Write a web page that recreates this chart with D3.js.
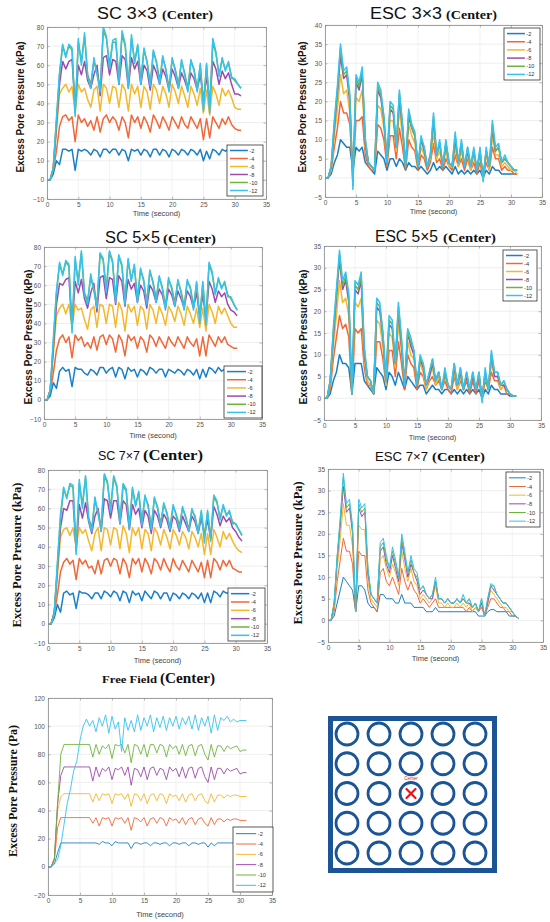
<!DOCTYPE html>
<html><head><meta charset="utf-8">
<script src="https://cdn.jsdelivr.net/npm/d3@7"></script>
<style>body{margin:0;background:#fff}svg{display:block}</style>
</head><body><svg id="c" width="550" height="922"></svg>
<script>
// ---------------- DATA ----------------
const timeSec = [0,0.5,1,1.5,2,2.5,3,3.5,4,4.5,5,5.5,6,6.5,7,7.5,8,8.5,9,9.5,10,10.5,11,11.5,12,12.5,13,13.5,14,14.5,15,15.5,16,16.5,17,17.5,18,18.5,19,19.5,20,20.5,21,21.5,22,22.5,23,23.5,24,24.5,25,25.5,26,26.5,27,27.5,28,28.5,29,29.5,30,30.5,31];
const depthLabels = ["-2","-4","-6","-8","-10","-12"];
const depthColors = ["#1a7fc6","#f0683a","#f5b72c","#9c4aac","#6fb23c","#35c2ee"];
const xTickValues = [0,5,10,15,20,25,30,35];
const yTicksSC = [-10,0,10,20,30,40,50,60,70,80];
const yTicksESC40 = [-5,0,5,10,15,20,25,30,35,40];
const yTicksESC35 = [-5,0,5,10,15,20,25,30,35];
const yTicksFF = [-20,0,20,40,60,80,100,120];

// SC 3x3
const sc3_d2 = [0,0,3,10,8,16,16,15,16,5,16,15,16,15,13,16,15,12,16,16,14,16,16,13,16,15,10,16,15,16,13,16,15,12,16,16,13,16,15,12,16,15,13,16,15,13,16,15,13,16,10,15,11,16,15,13,16,15,16,14,16,15,15];
const sc3_d4 = [0,0,5,15,28,33,34,31,33,20,34,30,32,28,31,26,33,25,32,34,30,33,31,26,33,30,22,34,30,33,27,33,30,25,34,31,27,33,30,26,33,30,27,33,29,27,33,30,27,32,21,32,22,33,30,27,32,29,33,29,27,26,26];
const sc3_d6 = [0,0,6,25,45,48,50,46,49,35,50,46,48,42,38,47,49,36,50,48,40,49,48,38,50,47,36,50,45,49,38,49,46,37,50,47,40,49,45,38,50,46,40,49,44,38,49,45,39,48,35,47,34,49,45,39,48,44,47,43,38,37,37];
const sc3_d8 = [0,0,6,28,50,62,58,62,63,38,60,55,62,52,48,55,60,44,64,65,55,63,62,50,65,63,48,64,58,62,50,60,57,47,60,56,50,58,54,47,58,54,48,56,52,47,56,53,47,55,42,54,40,62,58,50,57,53,56,50,45,45,44];
const sc3_d10 = [0,0,6,30,55,70,65,70,68,35,72,62,75,55,50,62,56,48,78,74,60,72,72,52,76,70,50,74,62,70,52,68,62,50,67,62,52,64,58,48,63,58,50,62,56,48,62,58,48,60,40,60,38,72,66,55,63,58,61,54,52,50,48];
const sc3_d12 = [0,0,6,32,56,71,64,71,69,33,74,60,77,54,48,64,55,46,80,75,58,73,74,50,78,71,48,76,61,71,50,69,61,49,68,61,50,65,57,46,64,57,48,63,55,46,63,57,46,61,36,61,35,74,67,54,64,57,62,53,53,50,48];

// ESC 3x3
const esc3_d2 = [0,0,1,4,6,10,9,8,8,2,8,7,8,4,3,2,1,7,6,5,2,5,5,3,5,4,2,4,3,3,2,3,2,1,2,4,2,3,2,3,2,1,3,1,2,1,2,1,2,1,2,0,2,1,3,2,2,1,1,1,1,1,1];
const esc3_d4 = [0,0,2,8,13,20,17,17,14,1,15,15,16,6,3,2,2,14,13,10,3,11,11,5,13,8,2,10,8,7,2,6,5,2,4,9,4,5,2,5,3,2,6,3,5,2,5,2,4,1,4,0,4,2,8,5,5,2,3,2,2,1,1];
const esc3_d6 = [0,0,2,11,18,27,22,23,17,0,21,20,23,8,4,3,2,19,18,13,4,15,15,7,18,11,3,14,11,9,3,8,6,3,5,12,5,7,3,7,3,3,8,3,7,3,6,2,6,2,6,0,6,2,11,6,6,3,4,3,2,2,1];
const esc3_d8 = [0,0,3,13,22,32,26,27,20,-1,25,23,27,9,4,3,2,23,21,15,4,18,17,8,21,13,3,16,13,11,3,10,7,3,6,15,6,9,3,9,4,3,10,4,9,3,7,3,7,2,7,0,7,3,13,7,8,4,5,4,3,2,2];
const esc3_d10 = [0,0,3,14,23,34,27,28,21,-2,26,24,28,10,4,3,2,24,22,16,4,19,18,8,22,14,3,17,13,11,3,10,8,3,6,16,6,9,3,9,4,3,11,4,9,3,8,3,7,2,7,0,7,3,14,7,8,4,5,4,3,2,2];
const esc3_d12 = [0,0,3,15,24,35,28,29,22,-3,27,25,29,10,4,3,2,25,23,16,4,20,19,8,23,14,3,18,14,12,3,11,8,3,6,17,6,10,3,10,4,3,12,4,10,3,8,3,8,2,8,-1,8,3,15,8,9,4,6,4,3,2,2];

// SC 5x5
const sc5_d2 = [0,0,2,9,6,15,17,15,16,7,17,16,16,14,13,16,15,13,17,17,14,16,17,12,17,16,11,17,15,16,12,16,15,13,17,16,14,16,16,12,16,15,14,16,15,13,16,15,13,16,11,16,12,17,16,14,17,15,16,15,16,15,15];
const sc5_d4 = [0,0,4,14,26,32,34,30,33,22,34,31,33,28,30,27,33,26,33,34,29,34,32,25,34,31,23,34,31,33,27,33,31,25,34,32,28,33,30,27,33,30,28,33,30,27,33,30,28,32,23,33,23,34,31,28,33,30,33,29,28,27,27];
const sc5_d6 = [0,0,5,24,44,48,50,45,50,38,50,47,48,42,37,47,49,38,50,49,40,50,49,38,51,47,36,50,46,49,39,49,47,37,50,47,40,49,45,39,49,46,41,49,45,39,49,45,40,48,38,48,36,50,46,40,49,45,48,44,40,38,38];
const sc5_d8 = [0,0,5,27,50,61,60,63,64,38,62,56,63,53,48,56,61,46,64,65,53,64,63,50,65,62,49,63,58,61,51,60,57,48,60,57,51,58,55,48,58,55,49,57,53,48,57,54,48,56,44,55,42,62,58,51,57,54,56,50,47,46,44];
const sc5_d10 = [0,0,5,30,56,71,66,72,70,37,73,62,77,56,52,64,58,50,76,73,58,77,72,53,75,70,52,73,63,70,53,68,63,51,67,62,53,64,59,49,63,59,51,62,57,49,62,59,49,61,44,61,42,71,66,56,63,59,61,55,53,50,47];
const sc5_d12 = [0,0,5,32,57,72,65,73,71,35,75,60,78,55,50,66,57,48,77,74,56,78,73,51,76,71,50,74,62,71,51,69,62,50,68,61,51,65,58,47,64,58,49,63,56,47,63,58,47,62,40,62,39,72,67,55,64,58,62,54,54,50,47];

// ESC 5x5
const esc5_d2 = [0,0,1,4,6,10,8,8,7,1,8,8,8,4,3,2,1,7,6,5,2,6,5,3,6,4,2,5,4,3,2,3,3,1,2,3,2,2,1,2,2,1,2,1,2,1,2,1,2,1,2,0,2,1,3,2,2,1,1,1,0.5,0.5,0.5];
const esc5_d4 = [0,0,2,9,14,19,16,17,14,1,16,15,16,7,3,3,1,13,13,9,3,11,11,5,13,8,2,10,8,7,2,6,5,2,4,5,3,4,2,4,2,1,5,2,4,2,4,1,4,1,4,0,4,2,6,4,4,2,3,1,1,0.5,0.5];
const esc5_d6 = [0,0,3,12,19,27,22,23,19,1,22,21,23,9,4,3,1,18,17,12,3,15,14,7,17,11,3,13,10,9,3,8,6,2,5,7,3,5,2,5,3,2,6,2,5,2,5,2,5,2,5,0,5,2,8,5,5,2,3,2,1,0.5,0.5];
const esc5_d8 = [0,0,4,14,23,32,25,27,22,1,25,24,27,10,5,4,1,21,20,14,4,17,16,8,20,12,3,15,12,10,3,9,7,3,5,8,4,6,2,6,3,2,7,3,6,2,5,2,5,2,5,0,6,2,10,5,5,3,3,2,1,0.5,0.5];
const esc5_d10 = [0,0,4,15,24,33,26,28,23,1,26,25,28,11,5,4,1,22,21,15,4,18,17,8,21,13,3,15,13,11,3,9,8,3,6,9,4,6,2,6,3,2,8,3,7,2,6,2,6,2,6,0,6,2,10,6,6,3,4,2,1,0.5,0.5];
const esc5_d12 = [0,0,4,16,25,34,27,29,24,1,27,26,29,12,5,4,1,23,22,15,4,19,18,8,22,14,3,16,14,11,3,10,8,3,6,9,4,6,2,7,3,2,8,3,7,2,6,2,6,2,6,-1,7,2,11,6,6,3,4,2,1,0.5,0.5];

// SC 7x7
const sc7_d2 = [0,0,3,10,6,16,17,15,16,8,17,16,16,15,13,16,16,13,17,16,14,17,16,12,17,16,11,17,15,16,12,17,15,13,17,16,13,16,16,12,16,15,13,16,15,13,16,15,13,16,11,16,11,17,16,14,17,16,16,15,16,15,15];
const sc7_d4 = [0,0,5,15,27,32,34,31,33,23,34,31,33,29,30,26,33,26,33,34,30,34,33,26,34,31,24,34,31,34,27,34,31,26,34,32,28,34,30,27,34,30,28,33,30,27,33,30,27,32,24,33,24,34,32,28,33,30,33,29,28,27,27];
const sc7_d6 = [0,0,6,25,45,49,50,46,50,40,50,47,49,43,38,47,50,38,50,49,41,50,49,39,51,47,37,50,46,50,39,49,47,38,50,47,41,49,45,39,49,46,41,48,45,39,48,45,40,47,36,47,36,49,45,40,48,44,47,43,40,38,37];
const sc7_d8 = [0,0,6,28,50,60,59,64,64,38,62,55,63,53,47,56,60,48,65,64,55,64,64,52,64,62,49,62,57,60,50,59,56,47,59,56,50,57,54,48,56,54,48,56,52,48,56,53,47,55,46,54,44,61,57,51,56,53,55,50,48,45,43];
const sc7_d10 = [0,0,5,30,55,70,66,72,71,38,73,62,76,55,50,64,58,50,77,73,60,76,71,54,72,69,51,70,62,68,53,66,62,50,65,61,52,62,58,50,61,57,51,60,56,49,59,56,48,58,46,58,45,66,63,55,61,57,58,53,52,49,46];
const sc7_d12 = [0,0,5,32,57,71,65,73,72,36,75,60,77,54,48,66,57,48,78,74,58,77,72,52,73,70,49,71,61,69,51,67,61,49,66,60,51,63,57,49,62,56,49,61,55,48,60,55,47,59,42,59,43,67,64,54,62,56,59,52,52,49,46];

// ESC 7x7
const esc7_d2 = [0,0,1,4,7,10,9,8,7,2,8,8,7,4,3,3,2,6,6,5,5,5,4,4,6,4,4,4,3,3,3,3,2,2,2,3,2,2,2,2,2,2,2,2,2,2,2,2,2,1,1,1,2,2.5,2.5,2,2,2,2,1,1,1,0.5];
const esc7_d4 = [0,0,2,9,14,19,16,16,13,2,16,15,15,7,4,3,2,11,12,9,8,10,8,6,12,9,7,9,7,6,4,5,4,3,4,5,3,3,3,3,3,3,3,3,3,2,3,2,3,2,3,1,3,5,5,4,3,3,2,2,1,1,0.5];
const esc7_d6 = [0,0,3,12,19,27,22,22,17,2,22,21,21,9,5,4,3,14,15,12,10,13,11,8,16,12,9,12,9,8,5,6,5,4,5,8,4,4,3,4,3,3,4,3,4,3,4,2,3,2,4,1,4,7,6,5,4,3,3,2,2,1,0.5];
const esc7_d8 = [0,0,4,14,22,31,25,26,20,2,26,24,25,11,6,5,4,16,17,13,11,15,12,9,18,14,10,13,11,9,6,7,6,5,5,9,5,5,4,5,4,4,5,4,5,4,4,3,4,2,4,1,4,8,7,6,5,4,4,3,2,1,0.5];
const esc7_d10 = [0,0,4,15,23,33,26,27,21,2,27,25,26,12,6,5,4,17,18,14,12,16,13,10,19,15,11,14,11,10,7,8,6,5,6,9,5,5,4,5,4,4,5,4,5,4,5,3,4,2,5,1,5,8,8,6,5,4,4,3,2,1,0.5];
const esc7_d12 = [0,0,4,15,24,34,27,28,22,2,28,26,27,12,6,5,4,18,19,15,12,17,14,10,20,16,11,15,12,11,7,8,6,5,6,10,5,5,4,5,4,4,5,4,6,4,5,3,4,2,5,1,5,8.5,8,6,5,4,4,3,2,1,0.5];

// Free Field
const ff_d2 = [0,0,2,10,17,17,17,17,17,17,17,17,17,17,17,17,16,18,17,17,15,18,17,17,17,17,13,17,17,16,17,17,15,17,17,16,17,17,15,17,17,16,17,17,15,17,17,16,17,17,14,17,15,17,17,17,17,17,17,17,17,17,17];
const ff_d4 = [0,0,5,28,35,35,35,35,35,35,35,35,35,35,31,35,29,35,34,35,29,35,34,35,31,35,26,35,34,32,35,29,34,35,31,35,34,29,35,33,34,31,35,30,34,35,30,34,35,31,29,35,30,34,34,32,34,33,34,34,33,33,33];
const ff_d6 = [0,0,6,40,50,52,52,52,52,52,52,52,52,52,46,52,47,52,51,52,45,52,51,52,48,52,43,52,51,47,52,45,51,52,47,52,51,45,52,50,51,47,52,46,51,52,47,51,52,47,45,52,46,51,51,49,51,50,51,51,50,50,50];
const ff_d8 = [0,0,6,45,65,71,71,71,71,71,71,71,71,71,61,71,64,70,68,71,62,70,69,71,65,71,58,70,69,64,71,62,70,71,65,70,69,62,71,68,70,64,71,63,70,71,63,70,71,64,60,71,62,70,70,66,70,68,69,70,66,67,67];
const ff_d10 = [0,0,6,45,80,87,87,87,87,87,87,87,87,87,78,87,80,86,84,87,77,87,86,87,81,87,74,87,86,80,87,78,87,87,81,87,86,78,87,84,86,80,87,79,86,87,79,86,87,80,76,87,78,86,86,82,86,84,85,86,82,83,83];
const ff_d12 = [0,0,3,5,15,30,45,55,68,75,90,100,105,100,104,96,106,100,108,95,107,98,103,82,106,97,104,96,108,97,106,100,108,96,106,99,107,97,106,100,107,98,106,101,107,98,108,97,106,100,107,95,108,97,106,104,107,103,105,103,104,104,104];

// grid schematic
const pileRows = [0,1,2,3,4];
const pileCols = [0,1,2,3,4];

// ---------------- LAYOUT ----------------
const SANS = "'Liberation Sans', Arial, sans-serif";
const SERIF = "'Liberation Serif', 'Times New Roman', serif";

const panels = [
  {series:[sc3_d2,sc3_d4,sc3_d6,sc3_d8,sc3_d10,sc3_d12], yDomain:[-10,80], yTicks:yTicksSC,
   box:[47,27,266,199], lw:1.5,
   t1:{text:"SC 3×3", x:97, w:60, size:16, font:SANS, weight:"normal"}, t2:{text:"(Center)", x:162, w:51, size:12.5},
   tb:19, yl:{text:"Excess Pore Pressure (kPa)", x:20, y:107, len:131, font:SANS, size:10.5},
   xlb:216, leg:[227,145,263,196]},
  {series:[esc3_d2,esc3_d4,esc3_d6,esc3_d8,esc3_d10,esc3_d12], yDomain:[-5,40], yTicks:yTicksESC40,
   box:[325,25,542,197], lw:1.5,
   t1:{text:"ESC 3×3", x:370, w:72, size:16, font:SANS, weight:"normal"}, t2:{text:"(Center)", x:446, w:51, size:12.5},
   tb:19, yl:{text:"Excess Pore Pressure (kPa)", x:302, y:107, len:131, font:SANS, size:10.5},
   xlb:214, leg:[504,28,540,80]},
  {series:[sc5_d2,sc5_d4,sc5_d6,sc5_d8,sc5_d10,sc5_d12], yDomain:[-10,80], yTicks:yTicksSC,
   box:[44,247,262,419], lw:1.5,
   t1:{text:"SC 5×5", x:105, w:55, size:16, font:SANS, weight:"normal"}, t2:{text:"(Center)", x:163, w:53, size:12.5},
   tb:243, yl:{text:"Excess Pore Pressure (kPa)", x:28, y:337, len:135, font:SANS, size:10.5},
   xlb:438, leg:[224,366,262,418]},
  {series:[esc5_d2,esc5_d4,esc5_d6,esc5_d8,esc5_d10,esc5_d12], yDomain:[-5,35], yTicks:yTicksESC35,
   box:[324,246,541,420], lw:1.5,
   t1:{text:"ESC 5×5", x:375, w:63, size:16, font:SANS, weight:"normal"}, t2:{text:"(Center)", x:443, w:53, size:12.5},
   tb:242, yl:{text:"Excess Pore Pressure (kPa)", x:303, y:337, len:135, font:SANS, size:10.5},
   xlb:440, leg:[503,250,537,301]},
  {series:[sc7_d2,sc7_d4,sc7_d6,sc7_d8,sc7_d10,sc7_d12], yDomain:[-10,80], yTicks:yTicksSC,
   box:[48,470,267,643], lw:1.5,
   t1:{text:"SC 7×7", x:98, w:42, size:13, font:SANS, weight:"normal"}, t2:{text:"(Center)", x:143, w:60, size:14.5},
   tb:460, yl:{text:"Excess Pore Pressure (kPa)", x:17, y:555, len:145, font:SERIF, size:12},
   xlb:663, leg:[228,588,265,641]},
  {series:[esc7_d2,esc7_d4,esc7_d6,esc7_d8,esc7_d10,esc7_d12], yDomain:[-5,35], yTicks:yTicksESC35,
   box:[328,469,543,642], lw:1.0,
   t1:{text:"ESC 7×7", x:375, w:53, size:13, font:SANS, weight:"normal"}, t2:{text:"(Center)", x:432, w:53, size:13.5},
   tb:461, yl:{text:"Excess Pore Pressure (kPa)", x:298, y:553, len:143, font:SERIF, size:12},
   xlb:661, leg:[506,472,540,527]},
  {series:[ff_d2,ff_d4,ff_d6,ff_d8,ff_d10,ff_d12], yDomain:[-20,120], yTicks:yTicksFF,
   box:[48,698,272,895], lw:0.9,
   t1:{text:"Free Field", x:102, w:55, size:11, font:SERIF, weight:"bold"}, t2:{text:"(Center)", x:160, w:55, size:14.5},
   tb:683, yl:{text:"Excess Pore Pressure (Pa)", x:13, y:791, len:132, font:SERIF, size:12},
   xlb:917, leg:[233,827,273,892]}
];

const svg = d3.select("#c");
svg.append("rect").attr("width",550).attr("height",922).attr("fill","#fff");
const defs = svg.append("defs");

panels.forEach((p, pi) => {
  const [x0,y0,x1,y1] = p.box;
  const x = d3.scaleLinear().domain([0,35]).range([x0,x1]);
  const y = d3.scaleLinear().domain(p.yDomain).range([y1,y0]);
  const g = svg.append("g");

  // grid
  g.append("g").selectAll("line.gy").data(p.yTicks).join("line")
    .attr("x1",x0).attr("x2",x1).attr("y1",d=>y(d)).attr("y2",d=>y(d))
    .attr("stroke","#e6e6e6").attr("stroke-width",0.7);
  g.append("g").selectAll("line.gx").data(xTickValues).join("line")
    .attr("y1",y0).attr("y2",y1).attr("x1",d=>x(d)).attr("x2",d=>x(d))
    .attr("stroke","#ededed").attr("stroke-width",0.7);

  // lines
  const cid = "clip"+pi;
  defs.append("clipPath").attr("id",cid).append("rect")
    .attr("x",x0).attr("y",y0).attr("width",x1-x0).attr("height",y1-y0);
  const line = d3.line().x(d=>x(d[0])).y(d=>y(d[1]));
  const lg = g.append("g").attr("clip-path",`url(#${cid})`);
  p.series.forEach((s, si) => {
    const pts = s.map((v,i)=>[timeSec[i],v]).filter(d=>d[0]!==undefined);
    lg.append("path").attr("d",line(pts)).attr("fill","none")
      .attr("stroke",depthColors[si]).attr("stroke-width",p.lw)
      .attr("stroke-linejoin","round");
  });

  // axes (inward ticks)
  const fmt = d3.format("d");
  const ax = g.append("g").attr("transform",`translate(0,${y1})`)
    .call(d3.axisBottom(x).tickValues(xTickValues).tickFormat(fmt).tickSizeInner(-2.5).tickSizeOuter(0).tickPadding(3));
  const ay = g.append("g").attr("transform",`translate(${x0},0)`)
    .call(d3.axisLeft(y).tickValues(p.yTicks).tickFormat(fmt).tickSizeInner(-2.5).tickSizeOuter(0).tickPadding(3));
  const at = g.append("g").attr("transform",`translate(0,${y0})`)
    .call(d3.axisTop(x).tickValues(xTickValues).tickFormat("").tickSizeInner(-2.5).tickSizeOuter(0));
  const ar = g.append("g").attr("transform",`translate(${x1},0)`)
    .call(d3.axisRight(y).tickValues(p.yTicks).tickFormat("").tickSizeInner(-2.5).tickSizeOuter(0));
  [ax,ay,at,ar].forEach(a=>{
    a.select(".domain").attr("stroke","#8a8a8a").attr("stroke-width",0.8);
    a.selectAll(".tick line").attr("stroke","#8a8a8a").attr("stroke-width",0.6);
    a.selectAll(".tick text").attr("fill","#555").attr("font-size",6.5).attr("font-family",SANS);
  });

  // title
  g.append("text").attr("y",p.tb).attr("x",p.t1.x).attr("font-family",p.t1.font).attr("font-size",p.t1.size)
    .attr("font-weight",p.t1.weight).attr("textLength",p.t1.w).attr("lengthAdjust","spacingAndGlyphs")
    .attr("fill","#111").text(p.t1.text);
  g.append("text").attr("y",p.tb).attr("x",p.t2.x).attr("font-family",SERIF).attr("font-size",p.t2.size)
    .attr("font-weight","bold").attr("textLength",p.t2.w).attr("lengthAdjust","spacingAndGlyphs")
    .attr("fill","#111").text(p.t2.text);

  // y label
  g.append("text").attr("transform",`translate(${p.yl.x},${p.yl.y}) rotate(-90)`)
    .attr("text-anchor","middle").attr("dominant-baseline","central")
    .attr("font-family",p.yl.font).attr("font-weight","bold").attr("font-size",p.yl.size)
    .attr("textLength",p.yl.len).attr("lengthAdjust","spacingAndGlyphs")
    .attr("fill","#111").text(p.yl.text);

  // x label
  g.append("text").attr("x",(x0+x1)/2).attr("y",p.xlb).attr("text-anchor","middle")
    .attr("font-family",SANS).attr("font-size",7.5).attr("fill","#444").text("Time (second)");

  // legend
  const [lx0,ly0,lx1,ly1] = p.leg;
  const lw = lx1-lx0, lh = ly1-ly0;
  const leg = g.append("g");
  leg.append("rect").attr("x",lx0).attr("y",ly0).attr("width",lw).attr("height",lh)
    .attr("fill","#fff").attr("stroke","#333").attr("stroke-width",0.8);
  const row = d3.scaleBand().domain(depthLabels).range([ly0+1.5, ly1-1.5]);
  depthLabels.forEach((lab, i) => {
    const cy = row(lab) + row.bandwidth()/2;
    leg.append("line").attr("x1",lx0+3).attr("x2",lx0+lw*0.58).attr("y1",cy).attr("y2",cy)
      .attr("stroke",depthColors[i]).attr("stroke-width",Math.max(p.lw,1));
    leg.append("text").attr("x",lx0+lw*0.62).attr("y",cy).attr("dominant-baseline","central")
      .attr("font-family",SANS).attr("font-size",5.6).attr("fill","#333").text(lab);
  });
});

// ---------------- schematic ----------------
const sch = svg.append("g");
const blue = "#1c5596";
sch.append("rect").attr("x",330.5).attr("y",718.5).attr("width",164).attr("height",152)
  .attr("fill","#fff").attr("stroke",blue).attr("stroke-width",5);
const px = d3.scalePoint().domain(pileCols).range([347,475]);
const py = d3.scalePoint().domain(pileRows).range([734,853]);
pileRows.forEach(r => pileCols.forEach(c => {
  sch.append("circle").attr("cx",px(c)).attr("cy",py(r)).attr("r",11)
    .attr("fill","none").attr("stroke",blue).attr("stroke-width",2.8);
}));
const cx = px(2), cy = py(2);
sch.append("path").attr("d",`M${cx-4.5},${cy-4.5}L${cx+4.5},${cy+4.5}M${cx+4.5},${cy-4.5}L${cx-4.5},${cy+4.5}`)
  .attr("stroke","#e8141c").attr("stroke-width",2.2).attr("stroke-linecap","round");
sch.append("text").attr("x",cx).attr("y",cy-14).attr("text-anchor","middle")
  .attr("font-family",SANS).attr("font-size",4.5).attr("fill","#e8141c").text("Center");
</script>
</body></html>
